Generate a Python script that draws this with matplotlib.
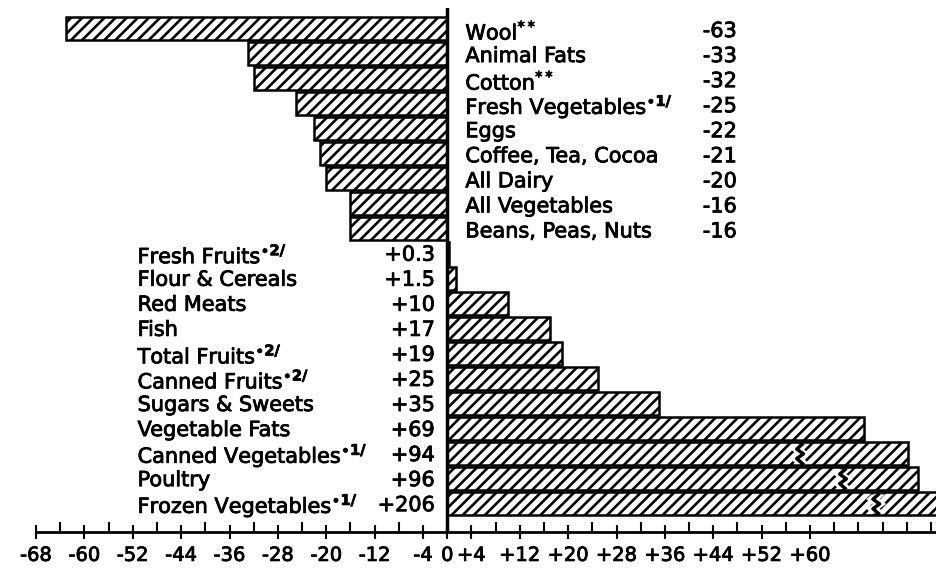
import numpy as np
import matplotlib
matplotlib.use("Agg")
import matplotlib.pyplot as plt
import matplotlib.patheffects as pe
from matplotlib.patches import Polygon

# items that went down (top block) and up (bottom block)
neg_items = ["Wool", "Animal Fats", "Cotton", "Fresh Vegetables", "Eggs",
             "Coffee, Tea, Cocoa", "All Dairy", "All Vegetables", "Beans, Peas, Nuts"]
neg_marks = ["**", "", "**", "•1/", "", "", "", "", ""]
neg_values = [-63, -33, -32, -25, -22, -21, -20, -16, -16]

pos_items = ["Fresh Fruits", "Flour & Cereals", "Red Meats", "Fish", "Total Fruits",
             "Canned Fruits", "Sugars & Sweets", "Vegetable Fats", "Canned Vegetables",
             "Poultry", "Frozen Vegetables"]
pos_marks = ["•2/", "", "", "", "•2/", "•2/", "", "", "•1/", "", "•1/"]
pos_values = [0.3, 1.5, 10, 17, 19, 25, 35, 69, 94, 96, 206]

# bars that run off the scale: (where the break sign goes, where the bar is cut)
cut_bars = {"Canned Vegetables": (58.4, 76.2),
            "Poultry": (65.5, 77.9),
            "Frozen Vegetables": (71.0, 90.0)}

tick_labels = [-68, -60, -52, -44, -36, -28, -20, -12, -4, 0, 4, 12, 20, 28, 36, 44, 52, 60]

plt.rcParams['hatch.linewidth'] = 1.9
plt.rcParams['font.family'] = ['DejaVu Sans']
plt.rcParams['mathtext.fontset'] = 'dejavusans'

fig = plt.figure(figsize=(9.36, 5.71), dpi=100)
ax = fig.add_axes([36 / 936, 39 / 571, 1 - 36 / 936, 524 / 571])

zero_px, scale = 447, 6.05
ax.set_xlim(-68, (936 - zero_px) / scale)
ax.set_ylim(20.12, -0.8)


def with_mark(name, mark):
    if not mark:
        return name
    return name + r"$^{" + mark.replace("•", r"\bullet ").replace("1/", r"\mathbf{1/}").replace("2/", r"\mathbf{2/}") + "}$"


# a thin stroke makes the type a little heavier, like the old lettering
heavy = [pe.withStroke(linewidth=0.6, foreground="black")]

h = 0.92
txt = dict(fontsize=15, va="center", path_effects=heavy)
row = 0
for name, mark, v in zip(neg_items, neg_marks, neg_values):
    ax.barh(row, v, height=h, color="white", edgecolor="black", linewidth=1.8,
            hatch="///", zorder=2)
    ax.text(3.0, row + 0.12, with_mark(name, mark), ha="left", **txt)
    ax.text(47.9, row + 0.12, f"{v:g}", ha="right", **txt)
    row += 1

for name, mark, v in zip(pos_items, pos_marks, pos_values):
    shown = cut_bars[name][1] if name in cut_bars else v
    ax.barh(row, shown, height=h, color="white", edgecolor="black", linewidth=1.8,
            hatch="///", zorder=2)
    ax.text(-51.2, row + 0.05, with_mark(name, mark), ha="left", **txt)
    ax.text(-2.0, row + 0.05, f"+{v:g}", ha="right", **txt)
    if name in cut_bars:
        x0 = cut_bars[name][0]
        ys = row + (h / 2 - 0.08) * np.array([-1, -0.5, 0, 0.5, 1])
        off = np.array([0.3, -0.6, 0.5, -0.6, 0.3])
        pts = list(zip(x0 - 1.1 + off, ys)) + list(zip(x0 + 1.1 + off, ys))[::-1]
        ax.add_patch(Polygon(pts, closed=True, facecolor="white", edgecolor="none", zorder=3))
        ax.plot(x0 + off, ys, color="black", lw=2.5, zorder=4)
    row += 1

ax.axvline(0, color="black", lw=2.5, zorder=5)

for s in ["top", "left", "right"]:
    ax.spines[s].set_visible(False)
ax.spines["bottom"].set_linewidth(2)

minor = [t for t in range(-68, 81, 4) if t not in tick_labels]
ax.set_xticks(tick_labels, [f"+{t}" if t > 0 else str(t) for t in tick_labels])
ax.set_xticks(minor, minor=True)
ax.tick_params(axis="x", which="major", direction="inout", length=10, width=1.5,
               labelsize=14, pad=5)
ax.tick_params(axis="x", which="minor", direction="in", length=7, width=1.5)
for lab in ax.get_xticklabels():
    lab.set_path_effects(heavy)
ax.set_yticks([])

fig.savefig("out.png", dpi=100)
